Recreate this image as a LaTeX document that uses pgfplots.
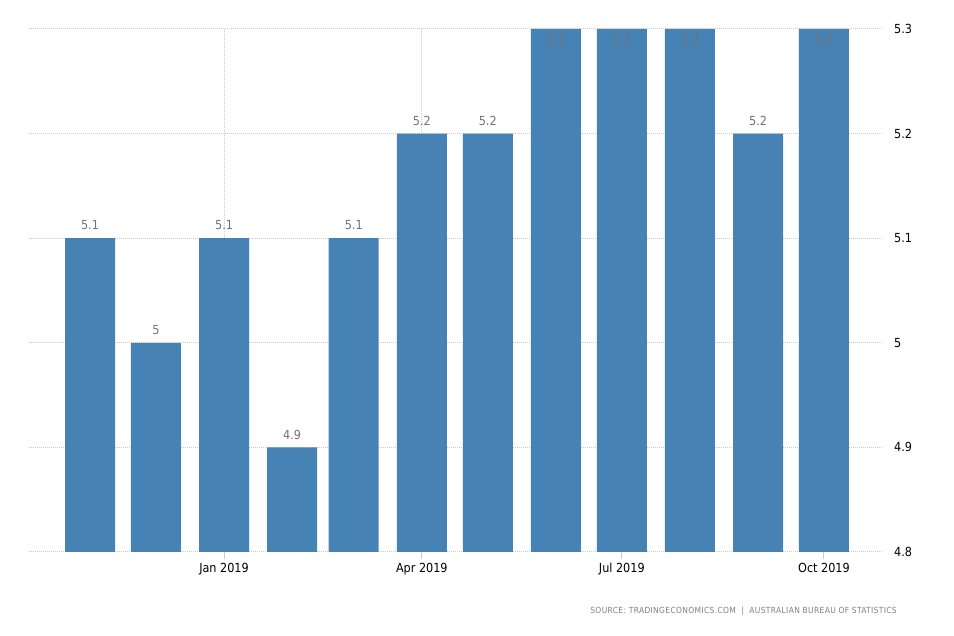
\documentclass[border=0pt]{standalone}
\usepackage{pgfplots}
\pgfplotsset{compat=1.18}
\usepackage{fontspec}
\setmainfont{DejaVu Sans Condensed}
\definecolor{barc}{HTML}{4682B4}
\definecolor{gridc}{HTML}{CCCCCC}
\definecolor{lab}{HTML}{737373}
\definecolor{src}{HTML}{808080}
\pgfplotsset{/pgf/number format/assume math mode=true}
\begin{document}
\begin{tikzpicture}
\path[use as bounding box] (-29pt,-84pt) rectangle (925pt,552pt);
\begin{axis}[
  at={(0pt,0pt)}, anchor=south west,
  scale only axis, width=854pt, height=523pt,
  xmin=-27.76, xmax=360.85, ymin=4.8, ymax=5.3,
  ytick={4.8,4.9,5,5.1,5.2,5.3},
  yticklabels={4.8,4.9,5,5.1,5.2,5.3},
  yticklabel pos=right,
  xtick={61,151,242,334},
  xticklabels={Jan 2019,Apr 2019,Jul 2019,Oct 2019},
  grid=major,
  major grid style={gridc, line width=1pt, dash pattern=on 1pt off 1pt},
  axis line style={draw=none},
  xtick pos=bottom,
  tick align=outside,
  major tick length=7pt,
  xtick style={gridc, line width=1pt, solid},
  ytick style={draw=none},
  xticklabel style={font=\fontsize{12.5}{14}\selectfont, anchor=north, inner sep=0pt, yshift=-4pt},
  yticklabel style={font=\fontsize{12.5}{14}\selectfont, anchor=west, inner sep=0pt, xshift=4pt},
  ybar, bar width=50pt, bar shift=0pt,
  nodes near coords,
  every node near coord/.append style={lab, font=\fontsize{12.5}{14}\selectfont, inner sep=0pt},
]
\addplot[fill=barc, draw=none,
  every node near coord/.append style={anchor=south, yshift=8pt}]
  coordinates {(0,5.1) (30,5.0) (61,5.1) (92,4.9) (120,5.1) (151,5.2) (181,5.2) (304,5.2)};
\addplot[fill=barc, draw=none,
  every node near coord/.append style={anchor=north, yshift=-5pt}]
  coordinates {(212,5.3) (242,5.3) (273,5.3) (334,5.3)};
\end{axis}
\node[anchor=east, inner sep=0pt, text=src, font=\fontsize{8.4}{10}\selectfont\addfontfeature{LetterSpace=4}]
  at (868pt,-59.5pt) {SOURCE: TRADINGECONOMICS.COM \ | \ AUSTRALIAN BUREAU OF STATISTICS};
\end{tikzpicture}
\end{document}
